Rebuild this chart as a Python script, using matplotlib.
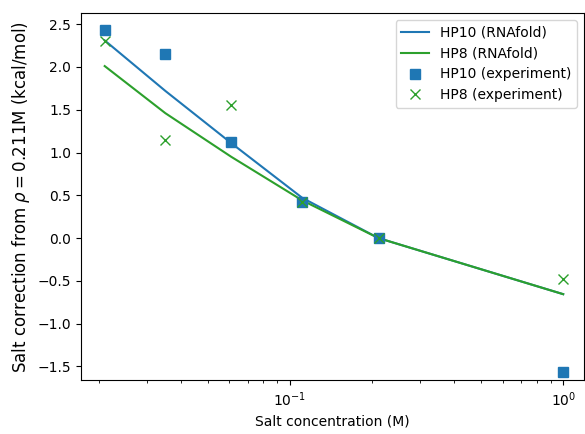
import matplotlib
matplotlib.use('Agg')
import matplotlib.pyplot as plt

salt = [0.021, 0.035, 0.061, 0.111, 0.211, 1.0]
hp10_fold = [2.31, 1.72, 1.11, 0.47, 0.0, -0.655]
hp8_fold = [2.01, 1.46, 0.95, 0.44, 0.0, -0.655]
hp10_exp = [2.43, 2.15, 1.12, 0.42, 0.0, -1.565]
hp8_exp = [2.30, 1.145, 1.555, 0.42, 0.0, -0.48]

fig = plt.figure(figsize=(5.85, 4.34), dpi=100)
ax = fig.add_axes([0.138, 0.124, 0.86, 0.846])
ax.plot(salt, hp10_fold, color='C0', label='HP10 (RNAfold)')
ax.plot(salt, hp8_fold, color='C2', label='HP8 (RNAfold)')
ax.plot(salt, hp10_exp, 's', color='C0', markersize=7, label='HP10 (experiment)')
ax.plot(salt, hp8_exp, 'x', color='C2', markersize=7, label='HP8 (experiment)')
ax.set_xscale('log')
ax.set_xlim(0.01716, 1.19)
ax.set_ylim(-1.66, 2.63)
ax.set_xlabel('Salt concentration (M)')
ax.set_ylabel(r'Salt correction from $\rho = 0.211$M (kcal/mol)', fontsize=12)
ax.legend(loc='upper right')
fig.savefig('out.png', dpi=100)
